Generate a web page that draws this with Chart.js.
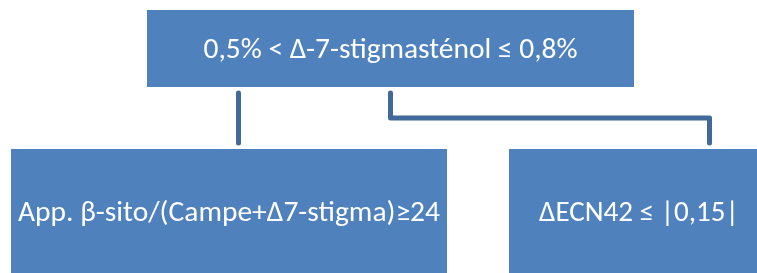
<!DOCTYPE html>
<html>
<head>
<meta charset="utf-8">
<script src="https://cdn.jsdelivr.net/npm/chart.js@4"></script>
<style>
html,body{margin:0;padding:0;background:#fff;}
#wrap{position:relative;width:757px;height:273px;}
</style>
</head>
<body>
<div id="wrap"><canvas id="c"></canvas></div>
<script>
// Node (box) data in diagram units
const nodeLabels = ["0,5% < Δ-7-stigmasténol ≤ 0,8%", "App. β-sito/(Campe+Δ7-stigma)≥24", "ΔECN42 ≤ |0,15|"];
const nodeLeft   = [147, 11, 509];
const nodeRight  = [634, 447, 769];
const nodeTop    = [10, 149, 149];
const nodeBottom = [87, 274, 274];
const labelWidth = [374, 422, 200];
// Connector paths
const connLeftX  = [238.5, 238.5];
const connLeftY  = [93, 143];
const connRightX = [390.5, 390.5, 709.5, 709.5];
const connRightY = [93, 118, 118, 143];

const BOX = '#4F81BD';
const LINE = '#41699A';

function pts(xs, ys){ return xs.map((x,i)=>({x:x, y:ys[i]})); }

const datasets = [];
nodeLabels.forEach((lab,i)=>{
  datasets.push({
    label: lab,
    data: [{x:nodeLeft[i], y:nodeTop[i]}, {x:nodeRight[i], y:nodeTop[i]}],
    borderWidth: 0,
    borderColor: BOX,
    backgroundColor: BOX,
    pointRadius: 0,
    fill: {value: nodeBottom[i]},
    order: 2
  });
});
datasets.push({label:'c1', data: pts(connLeftX, connLeftY), borderColor: LINE, borderWidth: 5, pointRadius: 0, fill: false, borderCapStyle:'butt', borderJoinStyle:'round', order: 1});
datasets.push({label:'c2', data: pts(connRightX, connRightY), borderColor: LINE, borderWidth: 5, pointRadius: 0, fill: false, borderCapStyle:'butt', borderJoinStyle:'round', order: 1});

const textPlugin = {
  id: 'nodeText',
  afterDatasetsDraw(chart){
    const ctx = chart.ctx, xs = chart.scales.x, ys = chart.scales.y;
    ctx.save();
    ctx.fillStyle = '#ffffff';
    ctx.font = '28px Carlito, "Open Sans", "Liberation Sans", sans-serif';
    ctx.textAlign = 'center';
    ctx.textBaseline = 'alphabetic';
    const capH = ctx.measureText('H').actualBoundingBoxAscent;
    nodeLabels.forEach((lab,i)=>{
      const cx = (xs.getPixelForValue(nodeLeft[i]) + xs.getPixelForValue(nodeRight[i]))/2;
      const cy = (ys.getPixelForValue(nodeTop[i]) + ys.getPixelForValue(nodeBottom[i]))/2;
      const w = ctx.measureText(lab).width;
      const sx = labelWidth[i] / w;
      ctx.save();
      ctx.translate(cx, cy + capH/2);
      ctx.scale(sx, 1);
      ctx.fillText(lab, 0, 0);
      ctx.restore();
    });
    ctx.restore();
  }
};

new Chart(document.getElementById('c'), {
  type: 'line',
  data: { datasets },
  options: {
    responsive: true,
    maintainAspectRatio: false,
    animation: false,
    layout: { padding: 0 },
    plugins: { legend: {display:false}, tooltip: {enabled:false}, title:{display:false} },
    scales: {
      x: { type:'linear', min:0, max:757, display:false },
      y: { type:'linear', min:0, max:273, reverse:true, display:false }
    },
    elements: { line: { tension: 0 } }
  },
  plugins: [textPlugin]
});
</script>
</body>
</html>
